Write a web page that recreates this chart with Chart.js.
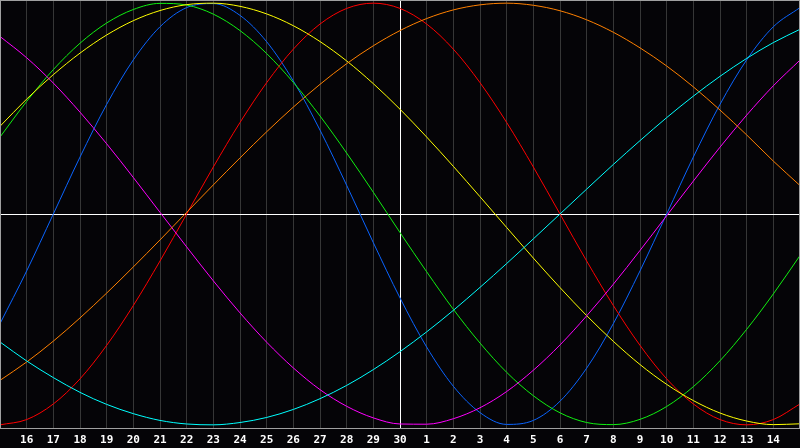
<!DOCTYPE html>
<html>
<head>
<meta charset="utf-8">
<script src="https://cdn.jsdelivr.net/npm/chart.js@4/dist/chart.umd.min.js"></script>
<style>
html,body{margin:0;padding:0;background:#050407;}
canvas{display:block;}
</style>
</head>
<body>
<canvas id="c" width="800" height="448"></canvas>
<script>
// Day labels (index 0..30); first and last are not shown
const dayLabels = [15,16,17,18,19,20,21,22,23,24,25,26,27,28,29,30,1,2,3,4,5,6,7,8,9,10,11,12,13,14,15];
const todayIndex = 15;

// Series values (-100..100)
const blueVals    = [-52.0,-27.0,0,27.0,52.0,73.1,88.8,97.9,99.8,94.2,81.7,63.1,39.8,13.6,-13.6,-39.8,-63.1,-81.7,-94.2,-99.8,-97.9,-88.8,-73.1,-52.0,-27.0,0,27.0,52.0,73.1,88.8,97.9];
const redVals     = [-100,-97.5,-90.1,-78.2,-62.3,-43.4,-22.3,0,22.3,43.4,62.3,78.2,90.1,97.5,100,97.5,90.1,78.2,62.3,43.4,22.3,0,-22.3,-43.4,-62.3,-78.2,-90.1,-97.5,-100,-97.5,-90.1];
const greenVals   = [36.5,53.4,68.5,81.0,90.6,97.0,99.9,99.1,94.8,87.0,76.1,62.4,46.5,28.9,10.3,-8.8,-27.4,-45.2,-61.2,-75.1,-86.2,-94.3,-98.9,-99.9,-97.4,-91.3,-81.9,-69.6,-54.7,-37.9,-19.7];
const magentaVals = [84.2,74.1,62.1,48.3,33.3,17.3,0.8,-15.6,-31.7,-46.9,-60.8,-73.0,-83.3,-91.2,-96.7,-99.6,-99.7,-97.1,-91.9,-84.2,-74.1,-62.1,-48.3,-33.3,-17.3,-0.8,15.6,31.7,46.9,60.8,73.0];
const yellowVals  = [41.6,54.5,66.1,76.3,84.9,91.7,96.5,99.3,100,98.5,94.9,89.3,81.8,72.6,61.8,49.7,36.5,22.6,8.2,-6.4,-20.9,-34.9,-48.2,-60.4,-71.4,-80.8,-88.5,-94.4,-98.2,-99.9,-99.5];
const orangeVals  = [-78.9,-70.2,-60.3,-49.3,-37.5,-25.1,-12.3,0.8,13.8,26.6,39.0,50.7,61.5,71.3,79.8,87.0,92.7,96.8,99.2,100,99.0,96.4,92.1,86.2,78.8,70.2,60.3,49.3,37.5,25.1,13.5];
const cyanVals    = [-60.7,-69.7,-77.6,-84.6,-90.3,-94.7,-97.9,-99.6,-100,-98.9,-96.5,-92.7,-87.6,-81.3,-73.8,-65.3,-55.9,-45.7,-34.8,-23.5,-11.8,0,11.8,23.5,34.8,45.7,55.9,65.3,73.8,81.3,87.6];

const seriesList = [
  {name:'cyan',    vals:cyanVals,    color:'#00ffff'},
  {name:'orange',  vals:orangeVals,  color:'#ff8000'},
  {name:'magenta', vals:magentaVals, color:'#ff00ff'},
  {name:'yellow',  vals:yellowVals,  color:'#ffff00'},
  {name:'red',     vals:redVals,     color:'#ff0000'},
  {name:'green',   vals:greenVals,   color:'#10f010'},
  {name:'blue',    vals:blueVals,    color:'#0a64ff'}
];

const datasets = seriesList.map(s => ({
  label: s.name,
  data: s.vals.map((v,i) => ({x:i, y:v})),
  borderColor: s.color,
  borderWidth: 1,
  pointRadius: 0,
  cubicInterpolationMode: 'monotone',
  fill: false
}));

const bgPlugin = {
  id:'bg',
  beforeDraw(chart){
    const ctx = chart.ctx;
    ctx.save();
    ctx.fillStyle = '#050407';
    ctx.fillRect(0,0,chart.width,chart.height);
    ctx.restore();
  },
  afterDraw(chart){
    const a = chart.chartArea, ctx = chart.ctx;
    ctx.save();
    ctx.strokeStyle = '#a0a0a0';
    ctx.lineWidth = 1;
    ctx.strokeRect(a.left+0.5, a.top+0.5, a.right-a.left-1, a.bottom-a.top);
    ctx.restore();
  }
};

new Chart(document.getElementById('c'), {
  type:'line',
  data:{datasets},
  options:{
    responsive:false,
    animation:false,
    devicePixelRatio:1,
    layout:{padding:0},
    plugins:{legend:{display:false}, tooltip:{enabled:false}},
    scales:{
      x:{
        type:'linear', min:0, max:30, offset:false,
        afterFit(scale){ scale.height = 20; scale.paddingLeft = 0; scale.paddingRight = 0; },
        grid:{
          drawTicks:false,
          color(ctx){
            const v = ctx.tick && ctx.tick.value;
            if (v === todayIndex) return '#ffffff';
            if (v === 0 || v === 30) return '#a0a0a0';
            return '#363636';
          },
          lineWidth:1
        },
        border:{display:true, color:'#a0a0a0'},
        ticks:{
          stepSize:1, autoSkip:false, maxRotation:0, padding:6,
          color:'#ffffff',
          font:{family:'"DejaVu Sans Mono", monospace', size:11, weight:'bold'},
          callback(v){ return (v<=0 || v>=30) ? '' : String(dayLabels[v]); }
        }
      },
      y:{
        min:-101.5, max:101.5,
        afterFit(scale){ scale.width = 0; scale.paddingTop = 0; scale.paddingBottom = 0; },
        afterBuildTicks(scale){ scale.ticks = [{value:0}]; },
        ticks:{display:false},
        grid:{drawTicks:false, color:'#ffffff', lineWidth:1},
        border:{display:true, color:'#a0a0a0'}
      }
    }
  },
  plugins:[bgPlugin]
});
</script>
</body>
</html>
